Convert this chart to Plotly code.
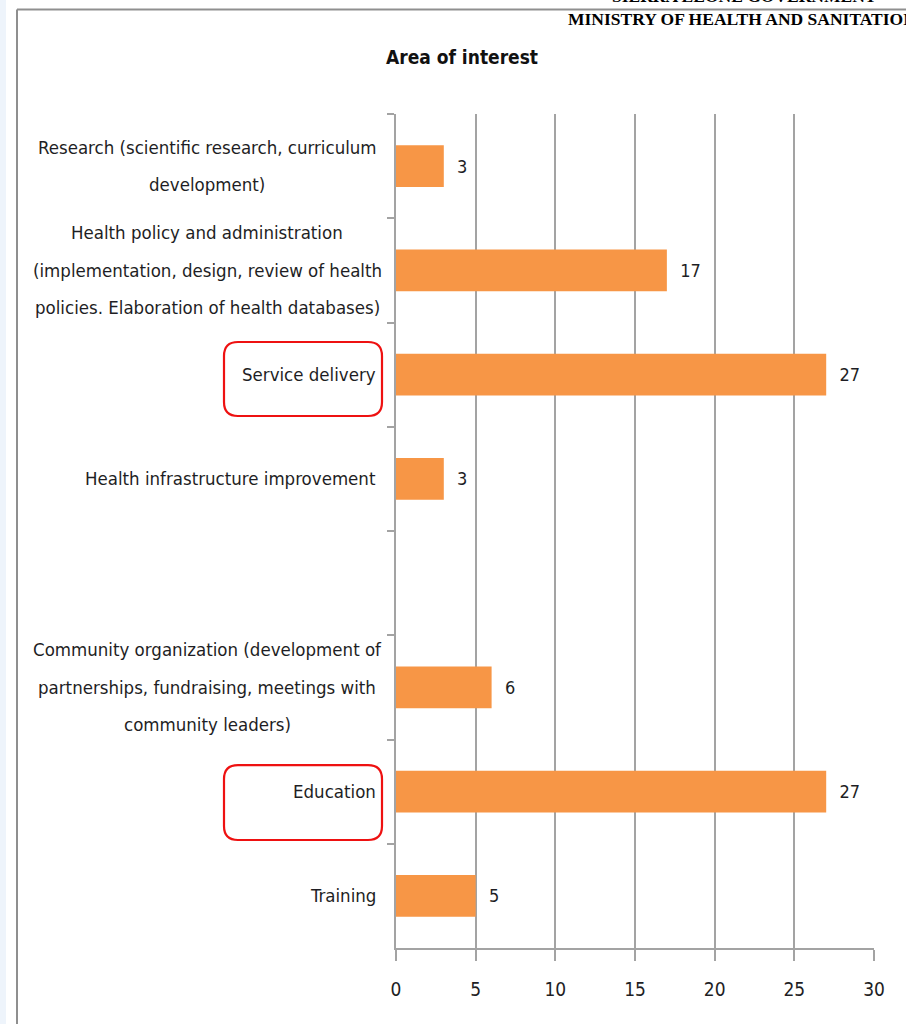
import plotly.graph_objects as go

# ---------------- data ----------------
categories = [
    "Research",
    "Health policy and administration",
    "Service delivery",
    "Health infrastructure improvement",
    " ",
    "Community organization",
    "Education",
    "Training",
]
label_lines = [
    ["Research (scientific research, curriculum", "development)"],
    ["Health policy and administration",
     "(implementation, design, review of health",
     "policies. Elaboration of health databases)"],
    ["Service delivery"],
    ["Health infrastructure improvement"],
    [],
    ["Community organization (development of",
     "partnerships, fundraising, meetings with",
     "community leaders)"],
    ["Education"],
    ["Training"],
]
values = [3, 17, 27, 3, None, 6, 27, 5]
highlighted = ["Service delivery", "Education"]
x_ticks = [0, 5, 10, 15, 20, 25, 30]
title_text = "Area of interest"
header_top = "SIERRA LEONE GOVERNMENT"
header_main = "MINISTRY OF HEALTH AND SANITATION"

# ---------------- layout geometry ----------------
W, H = 906, 1024
ML, MR, MT, MB = 396, 32, 114, 76
PW, PH = W - ML - MR, H - MT - MB

def px2x(px):
    return (px - ML) / PW

def py2y(py):
    return (H - MB - py) / PH

FONT = "Liberation Sans Narrow, Arial Narrow, DejaVu Sans Condensed, sans-serif"
SERIF = "Liberation Serif, Times New Roman, serif"
TXT = "#1e1e24"
GRID = "#a3a3a3"
BAR = "#F79646"

fig = go.Figure()
fig.add_trace(go.Bar(
    x=values, y=categories, orientation="h",
    marker=dict(color=BAR, line=dict(width=0)),
    width=0.4,
    texttemplate="\u00a0\u00a0%{x}", textposition="outside",
    textfont=dict(family=FONT, size=18, color=TXT),
    cliponaxis=False, hoverinfo="skip",
))

annotations = []
LINE_H = 37.5
for cat, lines in zip(categories, label_lines):
    n = len(lines)
    for k, line in enumerate(lines):
        a = dict(
            text=line, y=cat, yref="y", xref="paper", yanchor="middle",
            yshift=((n - 1) / 2 - k) * LINE_H,
            showarrow=False, font=dict(family=FONT, size=18.5, color=TXT),
        )
        if n > 1:
            a.update(x=px2x(207), xanchor="center")
        else:
            a.update(x=0, xanchor="right", xshift=-18)
        annotations.append(a)

annotations.append(dict(
    text="<b>" + title_text + "</b>", x=px2x(462), y=py2y(57),
    xref="paper", yref="paper", xanchor="center", yanchor="middle",
    showarrow=False, font=dict(family=FONT, size=19, color="#111"),
))
annotations.append(dict(
    text="<b>" + header_main + "</b>", x=px2x(566), y=py2y(19),
    xref="paper", yref="paper", xanchor="left", yanchor="middle",
    showarrow=False, font=dict(family=SERIF, size=17.5, color="#000"),
))
annotations.append(dict(
    text="<b>" + header_top + "</b>", x=px2x(744), y=py2y(-4),
    xref="paper", yref="paper", xanchor="center", yanchor="middle",
    showarrow=False, font=dict(family=SERIF, size=17.5, color="#000"),
))

def rounded(x0, x1, y0, y1, rx, ry):
    return (f"M {x0+rx},{y0} L {x1-rx},{y0} Q {x1},{y0} {x1},{y0+ry} "
            f"L {x1},{y1-ry} Q {x1},{y1} {x1-rx},{y1} L {x0+rx},{y1} "
            f"Q {x0},{y1} {x0},{y1-ry} L {x0},{y0+ry} Q {x0},{y0} {x0+rx},{y0} Z")

shapes = []
box_offsets = {"Service delivery": (-0.313, 0.397), "Education": (-0.255, 0.464)}
for name in highlighted:
    idx = categories.index(name)
    o0, o1 = box_offsets[name]
    shapes.append(dict(
        type="path", xref="paper", yref="y",
        path=rounded(px2x(224), px2x(382), idx + o0, idx + o1, 14 / PW, 14 / (PH / len(categories))),
        line=dict(color="#ee1111", width=2.2), fillcolor="rgba(0,0,0,0)",
    ))

# page frame
shapes.append(dict(type="rect", xref="paper", yref="paper",
                   x0=px2x(0), x1=px2x(6), y0=py2y(1024), y1=py2y(0),
                   line=dict(width=0), fillcolor="#eef4fb", layer="below"))
shapes.append(dict(type="line", xref="paper", yref="paper",
                   x0=px2x(17), x1=px2x(906), y0=py2y(9.5), y1=py2y(9.5),
                   line=dict(color="#8f8f8f", width=2)))
shapes.append(dict(type="line", xref="paper", yref="paper",
                   x0=px2x(17), x1=px2x(17), y0=py2y(9.5), y1=py2y(1024),
                   line=dict(color="#8f8f8f", width=2)))

fig.update_layout(
    width=W, height=H, autosize=False,
    margin=dict(l=ML, r=MR, t=MT, b=MB),
    paper_bgcolor="white", plot_bgcolor="white",
    showlegend=False,
    annotations=annotations, shapes=shapes,
    xaxis=dict(
        range=[0, 30], tickvals=x_ticks, ticks="outside", ticklen=11,
        tickcolor=GRID, tickwidth=1.5,
        showgrid=True, gridcolor=GRID, gridwidth=1.5,
        showline=True, linecolor=GRID, linewidth=2, zeroline=False,
        tickfont=dict(family=FONT, size=19, color=TXT),
        ticklabelstandoff=12, fixedrange=True,
    ),
    yaxis=dict(
        type="category", categoryorder="array", categoryarray=categories,
        range=[len(categories) - 0.5, -0.5],
        showticklabels=False, ticks="outside", tickson="boundaries",
        ticklen=7, tickcolor=GRID, tickwidth=1.5,
        showgrid=False, showline=True, linecolor=GRID, linewidth=2,
        zeroline=False, fixedrange=True,
    ),
)

fig.write_html("out.html", config={"displayModeBar": False},
               post_script="document.body.style.margin='0';document.body.style.overflow='hidden';")
